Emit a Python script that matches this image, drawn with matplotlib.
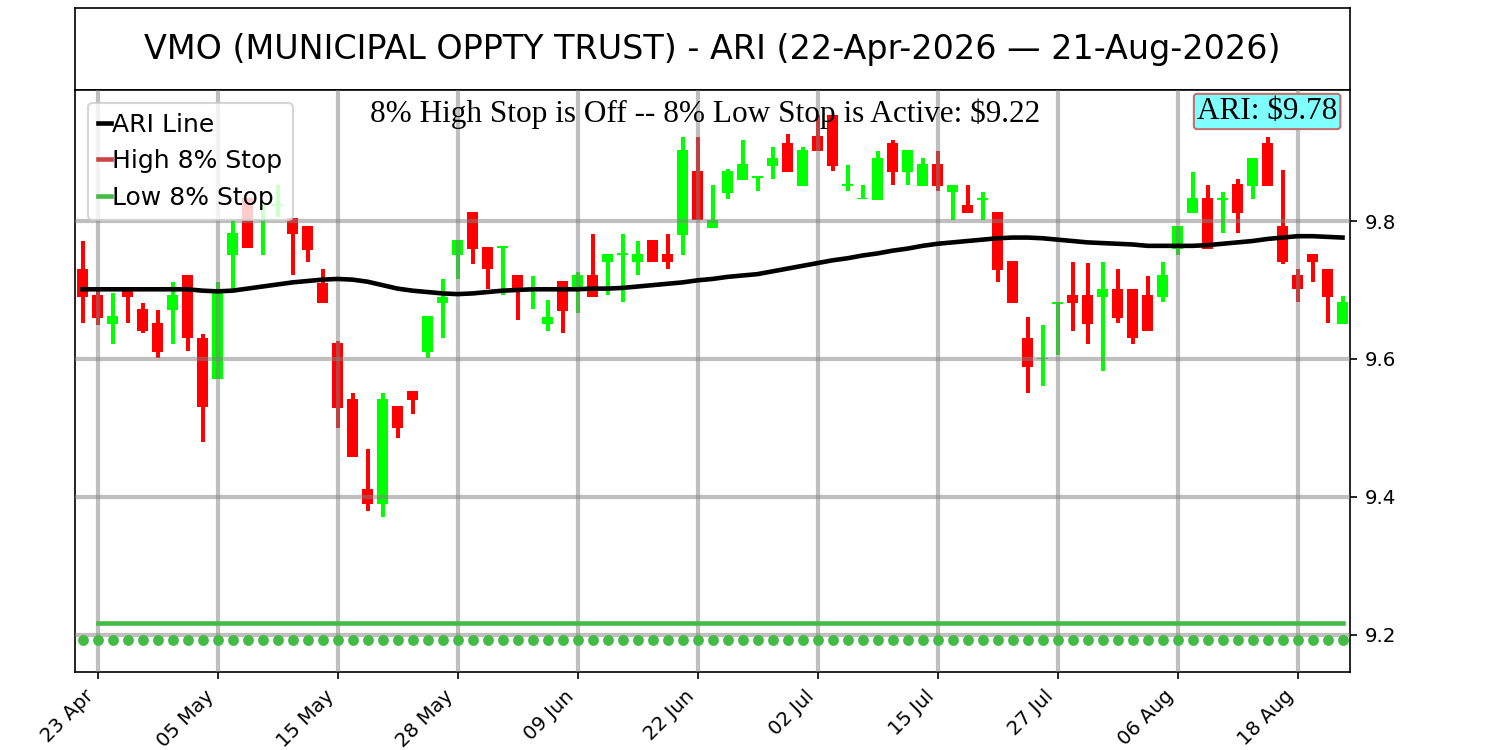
import matplotlib
matplotlib.use("Agg")
import matplotlib.pyplot as plt
import numpy as np
import pandas as pd

# trading days 22-Apr-2026 .. 21-Aug-2026
holidays = ['2026-05-25', '2026-06-19', '2026-07-03']
dates = [d for d in pd.bdate_range('2026-04-22', '2026-08-21') if d.strftime('%Y-%m-%d') not in holidays]

opens = [9.731, 9.693, 9.650, 9.698, 9.672, 9.652, 9.671, 9.722, 9.631, 9.571,
         9.750, 9.833, 9.800, 9.822, 9.804, 9.793, 9.710, 9.623, 9.542, 9.411,
         9.389, 9.532, 9.553, 9.610, 9.681, 9.751, 9.813, 9.762, 9.761, 9.722,
         9.700, 9.650, 9.713, 9.701, 9.722, 9.740, 9.750, 9.740, 9.772, 9.752,
         9.780, 9.872, 9.790, 9.841, 9.860, 9.862, 9.880, 9.913, 9.851, 9.923,
         9.954, 9.851, 9.832, 9.831, 9.913, 9.871, 9.851, 9.882, 9.842, 9.823,
         9.831, 9.813, 9.742, 9.631, 9.600, 9.679, 9.693, 9.693, 9.690, 9.702,
         9.702, 9.693, 9.690, 9.760, 9.811, 9.833, 9.831, 9.853, 9.851, 9.913,
         9.793, 9.722, 9.752, 9.731, 9.650]
closes = [9.690, 9.660, 9.662, 9.690, 9.640, 9.610, 9.692, 9.630, 9.530, 9.695,
          9.782, 9.761, 9.803, 9.824, 9.781, 9.758, 9.681, 9.529, 9.458, 9.390,
          9.542, 9.500, 9.540, 9.662, 9.690, 9.772, 9.760, 9.730, 9.764, 9.701,
          9.702, 9.661, 9.670, 9.722, 9.690, 9.752, 9.753, 9.752, 9.740, 9.740,
          9.903, 9.801, 9.801, 9.872, 9.882, 9.865, 9.892, 9.871, 9.903, 9.901,
          9.880, 9.853, 9.834, 9.892, 9.871, 9.903, 9.882, 9.851, 9.852, 9.811,
          9.833, 9.729, 9.681, 9.589, 9.602, 9.682, 9.681, 9.650, 9.702, 9.660,
          9.630, 9.640, 9.722, 9.793, 9.833, 9.760, 9.833, 9.811, 9.892, 9.851,
          9.740, 9.701, 9.740, 9.690, 9.682]
highs = [9.771, 9.700, 9.695, 9.701, 9.681, 9.671, 9.711, 9.722, 9.636, 9.711,
         9.801, 9.833, 9.823, 9.852, 9.805, 9.793, 9.731, 9.626, 9.551, 9.469,
         9.551, 9.532, 9.553, 9.662, 9.716, 9.772, 9.813, 9.762, 9.764, 9.722,
         9.720, 9.686, 9.713, 9.726, 9.781, 9.752, 9.781, 9.771, 9.772, 9.781,
         9.922, 9.922, 9.852, 9.876, 9.917, 9.865, 9.907, 9.926, 9.907, 9.954,
         9.954, 9.881, 9.852, 9.901, 9.917, 9.903, 9.891, 9.901, 9.852, 9.852,
         9.842, 9.813, 9.742, 9.661, 9.649, 9.682, 9.740, 9.739, 9.740, 9.730,
         9.702, 9.720, 9.740, 9.793, 9.871, 9.852, 9.842, 9.861, 9.892, 9.922,
         9.874, 9.730, 9.752, 9.731, 9.691]
lows = [9.652, 9.649, 9.621, 9.652, 9.637, 9.601, 9.621, 9.611, 9.480, 9.571,
        9.702, 9.761, 9.751, 9.806, 9.721, 9.740, 9.681, 9.500, 9.458, 9.380,
        9.371, 9.486, 9.520, 9.601, 9.631, 9.716, 9.737, 9.701, 9.692, 9.656,
        9.672, 9.641, 9.637, 9.666, 9.690, 9.692, 9.682, 9.721, 9.740, 9.730,
        9.751, 9.801, 9.790, 9.832, 9.860, 9.843, 9.861, 9.871, 9.851, 9.901,
        9.872, 9.843, 9.832, 9.831, 9.852, 9.852, 9.851, 9.843, 9.802, 9.811,
        9.802, 9.712, 9.681, 9.551, 9.561, 9.605, 9.641, 9.621, 9.582, 9.652,
        9.621, 9.640, 9.682, 9.751, 9.811, 9.760, 9.782, 9.782, 9.832, 9.851,
        9.737, 9.682, 9.712, 9.652, 9.650]
ari = [9.701, 9.701, 9.701, 9.701, 9.701, 9.701, 9.701, 9.701, 9.699, 9.698,
       9.699, 9.702, 9.705, 9.708, 9.711, 9.713, 9.715, 9.716, 9.715, 9.712,
       9.707, 9.702, 9.699, 9.697, 9.695, 9.694, 9.695, 9.697, 9.699, 9.700,
       9.701, 9.701, 9.701, 9.701, 9.702, 9.702, 9.703, 9.705, 9.707, 9.709,
       9.711, 9.714, 9.716, 9.719, 9.721, 9.723, 9.727, 9.731, 9.735, 9.739,
       9.743, 9.746, 9.750, 9.753, 9.757, 9.760, 9.764, 9.767, 9.769, 9.771,
       9.773, 9.775, 9.776, 9.776, 9.775, 9.773, 9.771, 9.769, 9.768, 9.767,
       9.766, 9.764, 9.764, 9.764, 9.764, 9.765, 9.767, 9.769, 9.771, 9.774,
       9.776, 9.778, 9.778, 9.777, 9.776]
low_stop = 9.217
low_dot_level = 9.192
ari_last = 9.78

n = len(dates)
x = np.arange(n)
o = np.array(opens); c = np.array(closes); h = np.array(highs); l = np.array(lows)
up = c >= o
cols = np.where(up, '#00ff00', '#ff0000')

fig = plt.figure(figsize=(10, 5), dpi=150)
tax = fig.add_axes([0.05, 0.88, 0.85, 0.109])
tax.set_xticks([]); tax.set_yticks([])
tax.text(0.5, 0.5, 'VMO (MUNICIPAL OPPTY TRUST) - ARI (22-Apr-2026 \u2014 21-Aug-2026)',
         ha='center', va='center', fontsize=16, transform=tax.transAxes)

ax = fig.add_axes([0.05, 0.104, 0.85, 0.776])
ax.vlines(x, l, h, colors=cols, linewidth=1.9, zorder=1)
ax.bar(x, np.maximum(np.abs(c - o), 0.002), bottom=np.minimum(o, c), width=0.7, color=cols, zorder=1)
ax.plot(x, ari, color='black', linewidth=2.2, label='ARI Line', zorder=3)
ax.plot([], [], color='#cc4444', linewidth=2.2, label='High 8% Stop')
ax.plot(x[1:], [low_stop] * (n - 1), color='#44bb44', linewidth=2.2, label='Low 8% Stop', zorder=3)
ax.plot(x, [low_dot_level] * n, 'o', color='#44bb44', markersize=4.2, zorder=3)

ax.set_xlim(-0.5, n - 0.5)
ax.set_ylim(9.146, 9.99)
ax.yaxis.tick_right()
ax.set_yticks([9.2, 9.4, 9.6, 9.8])
ticks = list(range(1, n, 8))
ax.set_xticks(ticks)
ax.set_xticklabels([dates[i].strftime('%d %b') for i in ticks], rotation=45, ha='right')
ax.tick_params(labelsize=9.5)
ax.grid(True, color='grey', alpha=0.5, linewidth=2)
ax.set_axisbelow(False)

ax.text(0.494, 0.985, f'8% High Stop is Off -- 8% Low Stop is Active: ${low_stop:.2f}',
        ha='center', va='top', transform=ax.transAxes, fontsize=15, family='Liberation Serif')
ax.text(0.99, 0.988, f'ARI: ${ari_last:.2f}', ha='right', va='top', transform=ax.transAxes,
        fontsize=15, family='Liberation Serif',
        bbox=dict(boxstyle='round,pad=0.1', facecolor='#80ffff', edgecolor='#c07070'))
leg = ax.legend(loc='upper left', fontsize=12, handlelength=0.55, handletextpad=0.05)
leg.set_zorder(5)

fig.savefig('out.png')
